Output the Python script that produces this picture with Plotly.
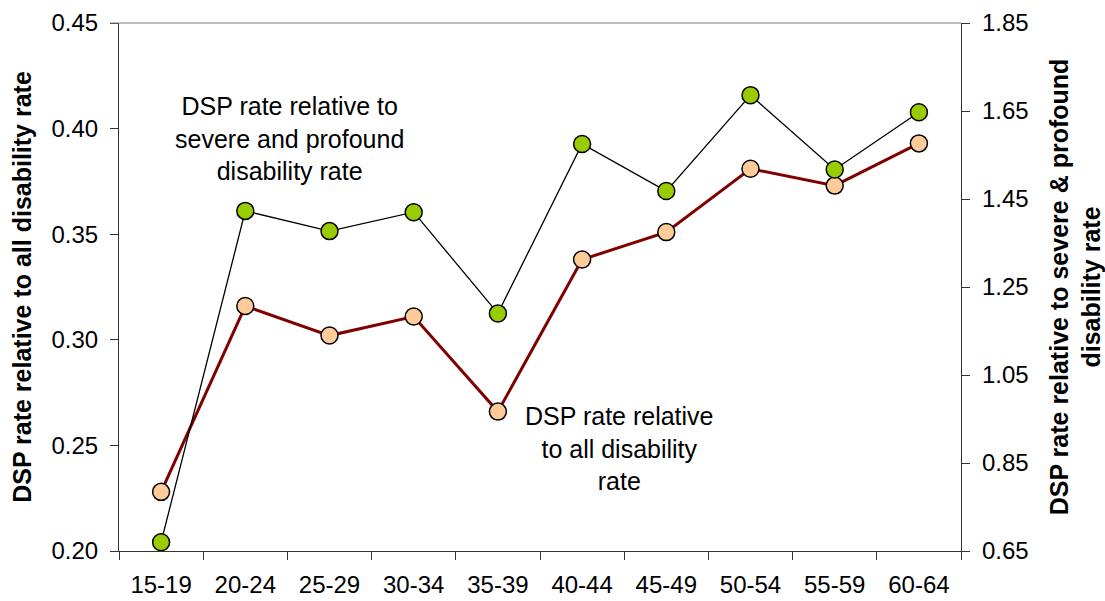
import plotly.graph_objects as go

# Age groups on the category axis
age_groups = ["15-19", "20-24", "25-29", "30-34", "35-39",
              "40-44", "45-49", "50-54", "55-59", "60-64"]

# DSP rate relative to all disability rate (left axis)
rel_all_disability = [0.228, 0.316, 0.302, 0.311, 0.266,
                      0.338, 0.351, 0.381, 0.373, 0.393]

# DSP rate relative to severe & profound disability rate (right axis)
rel_severe_profound = [0.670, 1.423, 1.377, 1.420, 1.190,
                       1.575, 1.468, 1.686, 1.517, 1.647]

left_ticks = [0.20, 0.25, 0.30, 0.35, 0.40, 0.45]
right_ticks = [0.65, 0.85, 1.05, 1.25, 1.45, 1.65, 1.85]

FONT = "Liberation Sans, Arial, sans-serif"
AXIS_COLOR = "#333333"

fig = go.Figure()

fig.add_trace(go.Scatter(
    x=age_groups, y=rel_all_disability, mode="lines+markers",
    line=dict(color="#800000", width=3),
    marker=dict(size=17, color="#FFCC99", line=dict(color="black", width=1.5)),
    yaxis="y", showlegend=False,
))

fig.add_trace(go.Scatter(
    x=age_groups, y=rel_severe_profound, mode="lines+markers",
    line=dict(color="black", width=1.3),
    marker=dict(size=17, color="#99CC00", line=dict(color="black", width=1.5)),
    yaxis="y2", showlegend=False,
))

common_tick = dict(tickfont=dict(family=FONT, size=24, color="black"),
                   showgrid=False, zeroline=False, automargin=False)

fig.update_layout(
    width=1105, height=601,
    margin=dict(l=119, r=144, t=23, b=50),
    paper_bgcolor="white", plot_bgcolor="white",
    font=dict(family=FONT, color="black"),
    xaxis=dict(
        type="category", range=[-0.5, 9.5], tickson="boundaries",
        ticks="outside", ticklen=8, tickcolor=AXIS_COLOR, tickwidth=1.2,
        showline=True, linecolor=AXIS_COLOR, linewidth=1.2,
        ticklabelstandoff=12,
        **common_tick,
    ),
    xaxis2=dict(
        overlaying="x", range=[-0.5, 9.5], tick0=0.5, dtick=1,
        ticks="inside", ticklen=8, tickcolor=AXIS_COLOR, tickwidth=1.2,
        showticklabels=False, showline=False, showgrid=False, zeroline=False,
        anchor="y", automargin=False,
    ),
    yaxis=dict(
        range=[0.20, 0.45], tickvals=left_ticks, tickformat=".2f",
        ticks="outside", ticklen=8, tickcolor=AXIS_COLOR, tickwidth=1.2,
        showline=True, linecolor=AXIS_COLOR, linewidth=1.2,
        ticklabelstandoff=7,
        title=dict(text="<b>DSP rate relative to all disability rate</b>",
                   font=dict(family=FONT, size=25), standoff=12),
        **common_tick,
    ),
    yaxis2=dict(
        range=[0.65, 1.85], tickvals=right_ticks, tickformat=".2f",
        overlaying="y", side="right", anchor="x",
        ticks="outside", ticklen=8, tickcolor=AXIS_COLOR, tickwidth=1.2,
        showline=True, linecolor=AXIS_COLOR, linewidth=1.2,
        ticklabelstandoff=7,
        title=dict(text="<b>DSP rate relative to severe & profound<br>disability rate</b>",
                   font=dict(family=FONT, size=25), standoff=22),
        **common_tick,
    ),
    yaxis3=dict(
        range=[0.20, 0.45], tickvals=left_ticks, overlaying="y", anchor="x",
        ticks="inside", ticklen=8, tickcolor=AXIS_COLOR, tickwidth=1.2,
        showticklabels=False, showline=False, showgrid=False, zeroline=False,
        automargin=False,
    ),
    yaxis4=dict(
        range=[0.65, 1.85], tickvals=right_ticks, overlaying="y", side="right",
        anchor="x", ticks="inside", ticklen=8, tickcolor=AXIS_COLOR, tickwidth=1.2,
        showticklabels=False, showline=False, showgrid=False, zeroline=False,
        automargin=False,
    ),
    shapes=[dict(type="line", xref="paper", yref="paper",
                 x0=-0.01, x1=1, y0=1, y1=1,
                 line=dict(color="#808080", width=1.2))],
    annotations=[
        dict(text="DSP rate relative to<br>severe and profound<br>disability rate",
             xref="paper", yref="paper", x=0.203, y=0.782,
             xanchor="center", yanchor="middle",
             showarrow=False, align="center",
             font=dict(family=FONT, size=25, color="black")),
        dict(text="DSP rate relative<br>to all disability<br>rate",
             xref="paper", yref="paper", x=0.594, y=0.195,
             xanchor="center", yanchor="middle",
             showarrow=False, align="center",
             font=dict(family=FONT, size=25, color="black")),
    ],
)

fig.write_html("out.html")
